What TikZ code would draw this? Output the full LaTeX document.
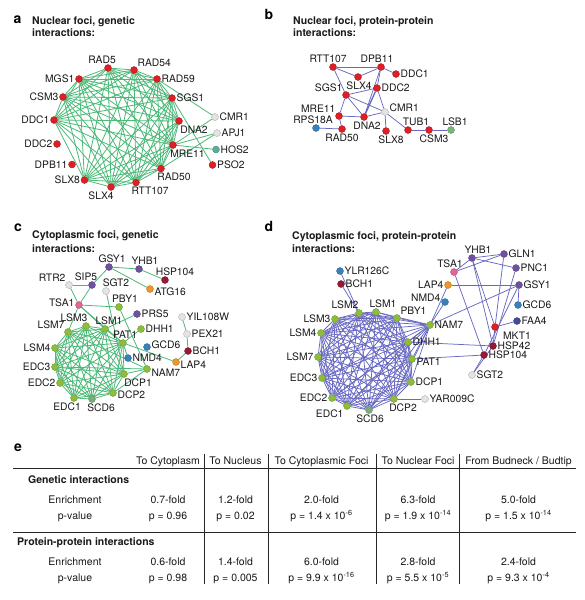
\documentclass[tikz,border=0pt]{standalone}
\usepackage{fontspec}
\setmainfont{TeX Gyre Heros}
\usetikzlibrary{backgrounds}
\definecolor{nred}{RGB}{222,32,38}
\definecolor{ngreen}{RGB}{140,190,60}
\definecolor{nsage}{RGB}{120,175,120}
\definecolor{npurple}{RGB}{112,80,160}
\definecolor{ndred}{RGB}{150,25,55}
\definecolor{norange}{RGB}{240,150,40}
\definecolor{nblue}{RGB}{55,130,190}
\definecolor{ngray}{RGB}{228,228,228}
\definecolor{npink}{RGB}{230,100,150}
\definecolor{nteal}{RGB}{90,175,150}
\definecolor{nlgreen}{RGB}{115,185,115}
\definecolor{ndblue}{RGB}{70,75,150}
\definecolor{egreen}{RGB}{75,185,120}
\definecolor{eblue}{RGB}{105,105,195}
\begin{document}
\begin{tikzpicture}[x=1pt,y=-1pt,
 dot/.style={circle,inner sep=0pt,minimum size=7pt,fill=#1,draw=#1!70!black,line width=0.3pt},
 lbl/.style={font=\fontsize{10.3}{12}\selectfont,inner sep=0.8pt,text=black!90},
 ttl/.style={font=\fontsize{10.5}{12}\selectfont\bfseries,inner sep=0pt,anchor=base west,text=black!90},
 plet/.style={font=\fontsize{14}{16}\selectfont\bfseries,inner sep=0pt,anchor=base west},
 ga/.style={draw=egreen,line width=0.8pt},
 pb/.style={draw=eblue,line width=0.75pt},
 tb/.style={font=\fontsize{10.5}{12}\selectfont,inner sep=0pt,anchor=base,text=black!90},
 tbb/.style={font=\fontsize{10.5}{12}\selectfont\bfseries,inner sep=0pt,anchor=base west,text=black!90},
 tline/.style={draw=black!85,line width=0.9pt},
 vline/.style={draw=black!85,line width=0.8pt}
 ]
\useasboundingbox (0,0) rectangle (584,600);

% ---------------- panel letters and titles
\node[plet] (la) at (13.5,23.3) {a};
\node[plet] (lb) at (264.5,19.6) {b};
\node[plet] (lc) at (14,231) {c};
\node[plet] (ld) at (264.5,231) {d};
\node[plet] (le) at (14,451) {e};
\node[ttl] (ta1) at (32,24.7) {Nuclear foci, genetic};
\node[ttl] (ta2) at (32,36.8) {interactions:};
\node[ttl] (tb1) at (293,24.7) {Nuclear foci, protein-protein};
\node[ttl] (tb2) at (293,36.8) {interactions:};
\node[ttl] (tc1) at (32,238.7) {Cytoplasmic foci, genetic};
\node[ttl] (tc2) at (32,252.7) {interactions:};
\node[ttl] (td1) at (292,239.7) {Cytoplasmic foci, protein-protein};
\node[ttl] (td2) at (292,252.7) {interactions:};

% ---------------- panel a
\node[dot=nred,label={[lbl,xshift=-6pt]above:RAD5}] (a-RAD5) at (108,68) {};
\node[dot=nred,label={[lbl]above right:RAD54}] (a-RAD54) at (134,70) {};
\node[dot=nred,label={[lbl]right:RAD59}] (a-RAD59) at (157,79) {};
\node[dot=nred,label={[lbl]left:MGS1}] (a-MGS1) at (79,79) {};
\node[dot=nred,label={[lbl]left:CSM3}] (a-CSM3) at (63,97) {};
\node[dot=nred,label={[lbl]right:SGS1}] (a-SGS1) at (172,98) {};
\node[dot=nred,label={[lbl]left:DDC1}] (a-DDC1) at (54,120) {};
\node[dot=nred,label={[lbl,xshift=15pt]below:DNA2}] (a-DNA2) at (179,121) {};
\node[dot=ngray,label={[lbl]right:CMR1}] (a-CMR1) at (215,117) {};
\node[dot=ngray,label={[lbl]right:APJ1}] (a-APJ1) at (217,133) {};
\node[dot=nred,label={[lbl]left:DDC2}] (a-DDC2) at (57,144) {};
\node[dot=nred,label={[lbl,xshift=14.5pt]below:MRE11}] (a-MRE11) at (173,145) {};
\node[dot=nteal,label={[lbl]right:HOS2}] (a-HOS2) at (216,149.5) {};
\node[dot=nred,label={[lbl]left:DPB11}] (a-DPB11) at (72,164.5) {};
\node[dot=nred,label={[lbl]right:PSO2}] (a-PSO2) at (212.5,165) {};
\node[dot=nred,label={[lbl,xshift=13pt]below:RAD50}] (a-RAD50) at (161,168.5) {};
\node[dot=nred,label={[lbl]left:SLX8}] (a-SLX8) at (84.5,180) {};
\node[dot=nred,label={[lbl,xshift=14pt]below:RTT107}] (a-RTT107) at (136,182.5) {};
\node[dot=nred,label={[lbl,xshift=-10pt]below:SLX4}] (a-SLX4) at (111,187) {};

% ---------------- panel b
\node[dot=nred,label={[lbl,xshift=-5pt]above:RTT107}] (b-RTT107) at (333,67) {};
\node[dot=nred,label={[lbl,xshift=-4pt]above:DPB11}] (b-DPB11) at (381,67) {};
\node[dot=nred,label={[lbl,xshift=1pt]below:SLX4}] (b-SLX4) at (358,77) {};
\node[dot=nred,label={[lbl]right:DDC1}] (b-DDC1) at (396,74) {};
\node[dot=nred,label={[lbl]right:DDC2}] (b-DDC2) at (377,88) {};
\node[dot=nred,label={[lbl]above left:SGS1}] (b-SGS1) at (346,95) {};
\node[dot=ngray,label={[lbl,yshift=4pt]right:CMR1}] (b-CMR1) at (385,112) {};
\node[dot=nred,label={[lbl]above left:MRE11}] (b-MRE11) at (339,116) {};
\node[dot=nred,label={[lbl,xshift=3pt]below:DNA2}] (b-DNA2) at (364,117) {};
\node[dot=nblue,label={[lbl,xshift=-3pt]above:RPS18A}] (b-RPS18A) at (316,128) {};
\node[dot=nred,label={[lbl]below:RAD50}] (b-RAD50) at (342,129) {};
\node[dot=nred,label={[lbl,xshift=5pt]below:SLX8}] (b-SLX8) at (386,131) {};
\node[dot=nred,label={[lbl,xshift=8pt]above:TUB1}] (b-TUB1) at (408,130) {};
\node[dot=nred,label={[lbl,xshift=5pt]below:CSM3}] (b-CSM3) at (429,130) {};
\node[dot=nlgreen,label={[lbl,xshift=4pt]above:LSB1}] (b-LSB1) at (451,130) {};

% ---------------- panel c
\node[dot=npurple,label={[lbl,xshift=3pt]above:GSY1}] (c-GSY1) at (109,267) {};
\node[dot=npurple,label={[lbl,xshift=6pt]above:YHB1}] (c-YHB1) at (139,269) {};
\node[dot=ndred,label={[lbl,xshift=10pt]above:HSP104}] (c-HSP104) at (165,280) {};
\node[dot=ngray,label={[lbl]above left:RTR2}] (c-RTR2) at (69,285) {};
\node[dot=npurple,label={[lbl,xshift=-6pt]above:SIP5}] (c-SIP5) at (92,285) {};
\node[dot=ngray,label={[lbl,xshift=10pt]above:SGT2}] (c-SGT2) at (106,291) {};
\node[dot=norange,label={[lbl,yshift=-3pt]right:ATG16}] (c-ATG16) at (150,289) {};
\node[dot=npink,label={[lbl,yshift=2pt]left:TSA1}] (c-TSA1) at (79,305) {};
\node[dot=ngreen,label={[lbl,xshift=6pt]above:PBY1}] (c-PBY1) at (119,307) {};
\node[dot=npurple,label={[lbl]right:PRS5}] (c-PRS5) at (137,314) {};
\node[dot=ngray,label={[lbl]right:YIL108W}] (c-YIL108W) at (182,317) {};
\node[dot=ngreen,label={[lbl,xshift=-12pt]above:LSM3}] (c-LSM3) at (86,326) {};
\node[dot=ngreen,label={[lbl,xshift=4pt]above:LSM1}] (c-LSM1) at (105,329) {};
\node[dot=ngreen,label={[lbl]above left:LSM7}] (c-LSM7) at (68,332) {};
\node[dot=ngreen,label={[lbl]right:DHH1}] (c-DHH1) at (141,329) {};
\node[dot=ngray,label={[lbl]right:PEX21}] (c-PEX21) at (187,334) {};
\node[dot=ngreen,label={[lbl,xshift=2pt]above:PAT1}] (c-PAT1) at (123,343) {};
\node[dot=nblue,label={[lbl,yshift=2pt]right:GCD6}] (c-GCD6) at (147,347) {};
\node[dot=ndred,label={[lbl]right:BCH1}] (c-BCH1) at (188,351) {};
\node[dot=ngreen,label={[lbl]left:LSM4}] (c-LSM4) at (55,348) {};
\node[dot=nblue,label={[lbl]right:NMD4}] (c-NMD4) at (128,358) {};
\node[dot=norange,label={[lbl,yshift=-3pt]right:LAP4}] (c-LAP4) at (176,362) {};
\node[dot=ngreen,label={[lbl]left:EDC3}] (c-EDC3) at (55,367) {};
\node[dot=ngreen,label={[lbl,yshift=-4pt]right:NAM7}] (c-NAM7) at (147,369) {};
\node[dot=ngreen,label={[lbl,xshift=14pt]below:DCP1}] (c-DCP1) at (124,374) {};
\node[dot=ngreen,label={[lbl]left:EDC2}] (c-EDC2) at (60,383) {};
\node[dot=ngreen,label={[lbl,yshift=-2pt]right:DCP2}] (c-DCP2) at (113,393) {};
\node[dot=ngreen,label={[lbl,xshift=-7pt]below:EDC1}] (c-EDC1) at (74,398) {};
\node[dot=nsage,label={[lbl,xshift=9pt]below:SCD6}] (c-SCD6) at (92,399) {};

% ---------------- panel d
\node[dot=npurple,label={[lbl,xshift=6pt]above:YHB1}] (d-YHB1) at (472,258) {};
\node[dot=npurple,label={[lbl]right:GLN1}] (d-GLN1) at (504,254) {};
\node[dot=npink,label={[lbl,xshift=-4pt]above:TSA1}] (d-TSA1) at (454,272) {};
\node[dot=npurple,label={[lbl]right:PNC1}] (d-PNC1) at (516,268) {};
\node[dot=nblue,label={[lbl]right:YLR126C}] (d-YLR126C) at (340,271) {};
\node[dot=ndred,label={[lbl]right:BCH1}] (d-BCH1) at (341,284) {};
\node[dot=norange,label={[lbl]left:LAP4}] (d-LAP4) at (448,285) {};
\node[dot=npurple,label={[lbl]right:GSY1}] (d-GSY1) at (519,285) {};
\node[dot=nblue,label={[lbl,yshift=4pt]left:NMD4}] (d-NMD4) at (445,302) {};
\node[dot=nblue,label={[lbl]right:GCD6}] (d-GCD6) at (518,305) {};
\node[dot=ngreen,label={[lbl,xshift=-14pt]above:LSM2}] (d-LSM2) at (359,313) {};
\node[dot=ngreen,label={[lbl,xshift=7pt]above:LSM1}] (d-LSM1) at (376,312) {};
\node[dot=ngreen,label={[lbl]above right:PBY1}] (d-PBY1) at (397,318) {};
\node[dot=ngreen,label={[lbl]left:LSM3}] (d-LSM3) at (335,319) {};
\node[dot=ndblue,label={[lbl]right:FAA4}] (d-FAA4) at (517,321) {};
\node[dot=ngreen,label={[lbl]right:NAM7}] (d-NAM7) at (430,325) {};
\node[dot=nred,label={[lbl,xshift=22pt]below:MKT1}] (d-MKT1) at (495,327) {};
\node[dot=ngreen,label={[lbl]left:LSM4}] (d-LSM4) at (321,333) {};
\node[dot=ngreen,label={[lbl]right:DHH1}] (d-DHH1) at (408,342) {};
\node[dot=ndred,label={[lbl]right:HSP42}] (d-HSP42) at (493,346) {};
\node[dot=ndred,label={[lbl]right:HSP104}] (d-HSP104) at (484,355) {};
\node[dot=ngreen,label={[lbl]left:LSM7}] (d-LSM7) at (318,357) {};
\node[dot=ngreen,label={[lbl,yshift=-3pt]right:PAT1}] (d-PAT1) at (412,359) {};
\node[dot=ngray,label={[lbl]right:SGT2}] (d-SGT2) at (472,375) {};
\node[dot=ngreen,label={[lbl]left:EDC3}] (d-EDC3) at (322,378) {};
\node[dot=ngreen,label={[lbl]right:DCP1}] (d-DCP1) at (411,382) {};
\node[dot=ngreen,label={[lbl]left:EDC2}] (d-EDC2) at (332,398) {};
\node[dot=ngreen,label={[lbl,xshift=9pt]below:DCP2}] (d-DCP2) at (394,399) {};
\node[dot=ngray,label={[lbl]right:YAR009C}] (d-YAR009C) at (425,399) {};
\node[dot=ngreen,label={[lbl]below left:EDC1}] (d-EDC1) at (347,406) {};
\node[dot=nsage,label={[lbl,xshift=1pt]below:SCD6}] (d-SCD6) at (369,410) {};

% ---------------- edges
\begin{scope}[on background layer]
 \def\ringa{RAD5,RAD54,RAD59,SGS1,DNA2,MRE11,RAD50,RTT107,SLX4,SLX8,DDC1,CSM3,MGS1}
 \foreach \u [count=\i] in \ringa {\foreach \v [count=\j] in \ringa {\ifnum\j>\i \draw[ga] (a-\u) -- (a-\v);\fi}}
 \foreach \u/\v in {RAD59/CMR1,SGS1/PSO2,MRE11/CMR1,MRE11/APJ1,MRE11/HOS2,RAD50/APJ1}
   \draw[ga] (a-\u) -- (a-\v);

 \foreach \u/\v in {RTT107/DPB11,RTT107/SLX4,SLX4/DPB11,DPB11/DDC1,DPB11/DDC2,DPB11/DNA2,
   RTT107/SGS1,SGS1/DDC2,SGS1/CMR1,SGS1/MRE11,SGS1/DNA2,DDC2/CMR1,CMR1/DNA2,CMR1/SLX8,
   CMR1/TUB1,MRE11/DNA2,MRE11/RAD50,RPS18A/RAD50,TUB1/CSM3,CSM3/LSB1}
   \draw[pb] (b-\u) -- (b-\v);
 \draw[pb,line width=1.3pt] (b-DDC2) -- (b-DNA2);

 \def\ringc{LSM7,LSM3,LSM1,PAT1,DCP1,DCP2,SCD6,EDC1,EDC2,EDC3,LSM4}
 \foreach \u [count=\i] in \ringc {\foreach \v [count=\j] in \ringc {\ifnum\j>\i \draw[ga] (c-\u) -- (c-\v);\fi}}
 \foreach \u/\v in {GSY1/YHB1,YHB1/HSP104,GSY1/ATG16,GSY1/SIP5,RTR2/SIP5,RTR2/TSA1,SIP5/TSA1,
   SGT2/DCP1,TSA1/PBY1,TSA1/PAT1,TSA1/LSM7,TSA1/LSM1,PBY1/NAM7,PRS5/LSM1,DHH1/PAT1,PAT1/LAP4,
   LAP4/BCH1,BCH1/PEX21,PEX21/YIL108W,NMD4/PAT1,NAM7/DCP1,NAM7/DCP2,NAM7/EDC3,NAM7/LSM7}
   \draw[ga] (c-\u) -- (c-\v);

 \def\ringd{LSM2,LSM1,PBY1,NAM7,DHH1,PAT1,DCP1,DCP2,SCD6,EDC1,EDC2,EDC3,LSM7,LSM4,LSM3}
 \foreach \u [count=\i] in \ringd {\foreach \v [count=\j] in \ringd {\ifnum\j>\i \draw[pb] (d-\u) -- (d-\v);\fi}}
 \foreach \u/\v in {YLR126C/LSM2,BCH1/LSM2,NMD4/NAM7,LAP4/NAM7,LAP4/GSY1,NAM7/GSY1,DHH1/HSP42,
   PAT1/HSP104,TSA1/HSP104,YHB1/TSA1,YHB1/GLN1,YHB1/PNC1,TSA1/GLN1,YHB1/HSP42,YHB1/MKT1,
   GLN1/MKT1,PNC1/HSP42,GSY1/HSP104,GSY1/GCD6,FAA4/MKT1,MKT1/HSP42,HSP104/SGT2,HSP42/SGT2,
   DCP2/YAR009C}
   \draw[pb] (d-\u) -- (d-\v);
\end{scope}

% ---------------- table
\draw[tline] (13,468) -- (576,468);
\draw[tline] (13,532) -- (576,532);
\foreach \x in {204,268,376,459} \draw[vline] (\x,454) -- (\x,584);
\node[tb] (h1) at (168,464.8) {To Cytoplasm};
\node[tb] (h2) at (235.5,464.8) {To Nucleus};
\node[tb] (h3) at (321.5,464.8) {To Cytoplasmic Foci};
\node[tb] (h4) at (418,464.8) {To Nuclear Foci};
\node[tb] (h5) at (518.5,464.8) {From Budneck / Budtip};
\node[tbb] (g0) at (28,483.8) {Genetic interactions};
\node[tb] (g1) at (75,503.8) {Enrichment};
\node[tb] (g2) at (75,519.3) {p-value};
\node[tb] (g11) at (168,503.8) {0.7-fold};
\node[tb] (g12) at (168,519.3) {p = 0.96};
\node[tb] (g21) at (235.5,503.8) {1.2-fold};
\node[tb] (g22) at (235.5,519.3) {p = 0.02};
\node[tb] (g31) at (321.5,503.8) {2.0-fold};
\node[tb] (g32) at (321.5,519.3) {p = 1.4 x 10\textsuperscript{-6}};
\node[tb] (g41) at (418,503.8) {6.3-fold};
\node[tb] (g42) at (418,519.3) {p = 1.9 x 10\textsuperscript{-14}};
\node[tb] (g51) at (518.5,503.8) {5.0-fold};
\node[tb] (g52) at (518.5,519.3) {p = 1.5 x 10\textsuperscript{-14}};
\node[tbb] (p0) at (17,545.5) {Protein-protein interactions};
\node[tb] (p1) at (75,565.8) {Enrichment};
\node[tb] (p2) at (75,581.3) {p-value};
\node[tb] (p11) at (168,565.8) {0.6-fold};
\node[tb] (p12) at (168,581.3) {p = 0.98};
\node[tb] (p21) at (235.5,565.8) {1.4-fold};
\node[tb] (p22) at (235.5,581.3) {p = 0.005};
\node[tb] (p31) at (321.5,565.8) {6.0-fold};
\node[tb] (p32) at (321.5,581.3) {p = 9.9 x 10\textsuperscript{-16}};
\node[tb] (p41) at (418,565.8) {2.8-fold};
\node[tb] (p42) at (418,581.3) {p = 5.5 x 10\textsuperscript{-5}};
\node[tb] (p51) at (518.5,565.8) {2.4-fold};
\node[tb] (p52) at (518.5,581.3) {p = 9.3 x 10\textsuperscript{-4}};
\end{tikzpicture}
\end{document}
